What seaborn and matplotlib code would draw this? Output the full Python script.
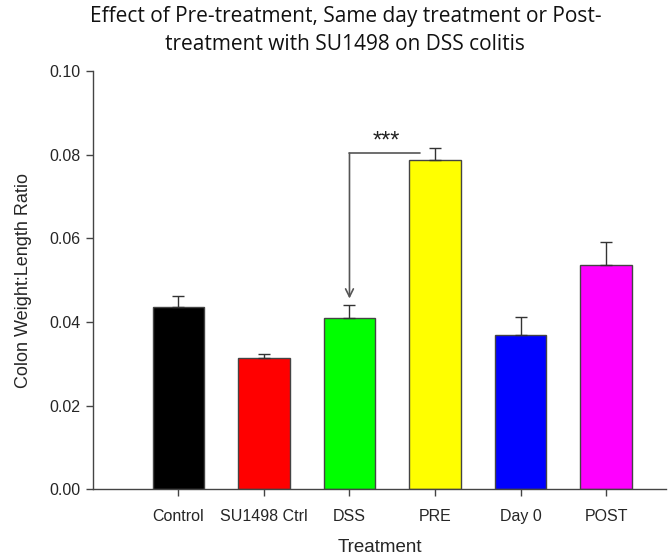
import matplotlib
matplotlib.use("Agg")
import matplotlib.pyplot as plt
import seaborn as sns
import pandas as pd

categories = ["Control", "SU1498 Ctrl", "DSS", "PRE", "Day 0", "POST"]
means = [0.0436, 0.0314, 0.0410, 0.0787, 0.0370, 0.0535]
sems = [0.0026, 0.0009, 0.0030, 0.0028, 0.0042, 0.0055]
colors = ["#000000", "#ff0000", "#00ff00", "#ffff00", "#0000ff", "#ff00ff"]
yticks = [0.00, 0.02, 0.04, 0.06, 0.08, 0.10]
title = "Effect of Pre-treatment, Same day treatment or Post-\ntreatment with SU1498 on DSS colitis"
sig_label = "***"

df = pd.DataFrame({"Treatment": categories, "Ratio": means})

sns.set_theme(style="ticks")
plt.rcParams["font.family"] = ["Liberation Sans", "DejaVu Sans"]

fig = plt.figure(figsize=(6.68, 5.58), dpi=100)
ax = fig.add_axes([0.139, 0.123, 0.858, 0.750])

sns.barplot(data=df, x="Treatment", y="Ratio", hue="Treatment", palette=colors,
            order=categories, hue_order=categories, legend=False, width=0.6,
            edgecolor="#444444", linewidth=1.0, errorbar=None, ax=ax, saturation=1)

xs = list(range(len(categories)))
ax.errorbar(xs, means, yerr=[[0] * len(sems), sems], fmt="none", ecolor="#333333",
            elinewidth=1.0, capsize=4.5, capthick=1.0, zorder=5)

ax.set_xlim(-1.0, 5.7)
ax.set_ylim(0, 0.10)
ax.set_yticks(yticks)
ax.set_yticklabels([f"{v:.2f}" for v in yticks])
ax.tick_params(axis="both", labelsize=11.5, length=5, width=1, color="#444444", direction="out")
ax.tick_params(axis="x", pad=9)
ax.tick_params(axis="y", pad=4)
for s in ["top", "right"]:
    ax.spines[s].set_visible(False)
for s in ["left", "bottom"]:
    ax.spines[s].set_color("#444444")
    ax.spines[s].set_linewidth(1.0)

ax.set_xlabel("Treatment", fontsize=13.5, labelpad=11)
ax.set_ylabel("Colon Weight:Length Ratio", fontsize=13, labelpad=12)

# significance bracket from PRE to DSS
dss_i = categories.index("DSS")
pre_i = categories.index("PRE")
bracket_y = 0.0803
ax.plot([pre_i - 0.18, dss_i], [bracket_y, bracket_y], color="#555555", lw=1.2)
ax.annotate("", xy=(dss_i, means[dss_i] + sems[dss_i] + 0.0016), xytext=(dss_i, bracket_y),
            arrowprops=dict(arrowstyle="->", color="#555555", lw=1.2, mutation_scale=14,
                            shrinkA=0, shrinkB=0))
ax.text((dss_i + pre_i - 0.18) / 2 + 0.02, bracket_y + 0.0002, sig_label, ha="center",
        va="bottom", fontsize=17, color="#222222")

fig.suptitle(title, fontsize=15, family=["Open Sans", "DejaVu Sans"],
             x=0.517, y=0.99, color="#111111", linespacing=1.45)

fig.savefig("out.png", dpi=100)
